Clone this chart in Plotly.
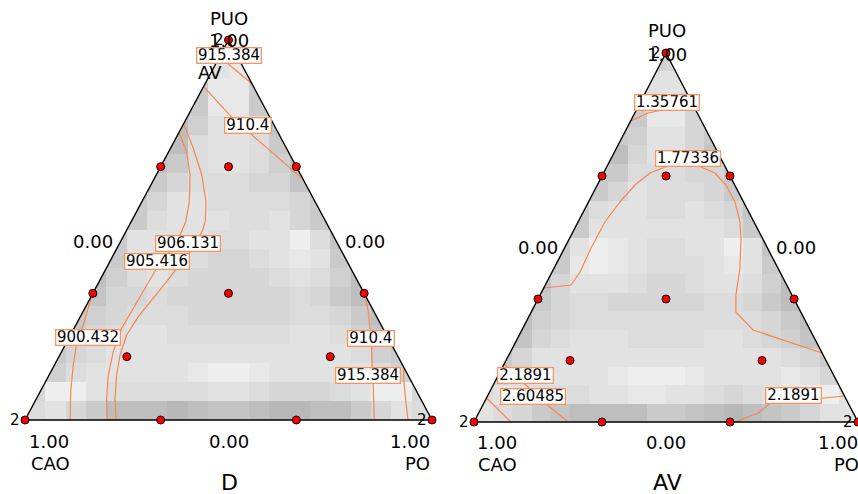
import numpy as np
import plotly.graph_objects as go

FIG_W, FIG_H = 858, 494

# ------------------------------------------------------------------ data
PANEL_TITLES = ["D", "AV"]
AXIS_NAMES = ["PUO", "CAO", "PO"]
TICK_LO, TICK_HI = "0.00", "1.00"

# mixture design points (PUO, CAO, PO)
DESIGN_PUO = [1.0, 0.0, 0.0, 0.6667, 0.3333, 0.6667, 0.3333, 0.0, 0.0, 0.6667, 0.1667, 0.1667, 0.3333]
DESIGN_CAO = [0.0, 1.0, 0.0, 0.3333, 0.6667, 0.0, 0.0, 0.6667, 0.3333, 0.1667, 0.6667, 0.1667, 0.3333]
DESIGN_PO = [0.0, 0.0, 1.0, 0.0, 0.0, 0.3333, 0.6667, 0.3333, 0.6667, 0.1667, 0.1667, 0.6667, 0.3333]

# replicate counts at the three vertices (apex, CAO corner, PO corner)
VERTEX_PUO = [1.0, 0.0, 0.0]
VERTEX_PO = [0.0, 0.0, 1.0]
VERTEX_REPS = ["2", "2", "2"]

# shaded response surface, 20x20 cells, top row first, digit = grey level 0..9
D_GRID = [
    ".........67.........",
    ".........78.........",
    "........3883........",
    "........3883........",
    ".......147762.......",
    ".......167763.......",
    "......23677641......",
    "......35666552......",
    ".....3577666653.....",
    ".....3677766753.....",
    "....377776677962....",
    "....377765567873....",
    "...14676555567641...",
    "...25565555556531...",
    "..3456665555566531..",
    "..3567766666677642..",
    ".356777777777777643.",
    ".467777789987777764.",
    "59976666677655567995",
    "67531110122100113576",
]
AV_GRID = [
    ".........45.........",
    ".........77.........",
    "........4775........",
    "........3885........",
    ".......347753.......",
    ".......157752.......",
    "......33666552......",
    "......35766653......",
    ".....3677667652.....",
    ".....3777777763.....",
    "....379876677972....",
    "....389876667873....",
    "...25777655677641...",
    "...35665555566531...",
    "..1456666666666531..",
    "..2567776666776542..",
    ".357777777777777653.",
    ".567777899987777875.",
    "67766677887765678997",
    "76532111133210123577",
]

# contour lines for D (PUO, PO fractions along each line)
D_915_TOP_PUO = [0.958, 0.937, 0.887]
D_915_TOP_PO = [0.000, 0.031, 0.112]
D_910_TOP_PUO = [0.876, 0.795, 0.755, 0.634]
D_910_TOP_PO = [0.002, 0.112, 0.175, 0.366]
D_905_PUO = [0.757, 0.706, 0.645, 0.5745, 0.5218, 0.5, 0.4737, 0.4263, 0.3992, 0.3466,
             0.294, 0.2413, 0.1797, 0.1184, 0.0571, 0.0]
D_905_PO = [0.0, 0.044, 0.083, 0.1165, 0.134, 0.1365, 0.139, 0.131, 0.124, 0.1215,
            0.119, 0.117, 0.127, 0.1455, 0.172, 0.202]
D_906_PUO = [0.7763, 0.715, 0.6447, 0.5745, 0.5218, 0.5, 0.4816, 0.4474, 0.421, 0.3992,
             0.364, 0.3203, 0.2718, 0.2237, 0.171, 0.1184, 0.0571, 0.0]
D_906_PO = [0.003, 0.056, 0.112, 0.1575, 0.182, 0.1866, 0.1867, 0.1866, 0.180, 0.173,
            0.166, 0.155, 0.1425, 0.138, 0.148, 0.166, 0.1925, 0.224]
D_900_PUO = [0.329, 0.294, 0.25, 0.2018, 0.1447, 0.0745, 0.0]
D_900_PO = [0.0, 0.0085, 0.0182, 0.026, 0.0463, 0.075, 0.111]
D_910_BOT_PUO = [0.329, 0.285, 0.2413, 0.1974, 0.136, 0.1008, 0.0]
D_910_BOT_PO = [0.671, 0.701, 0.727, 0.753, 0.785, 0.805, 0.858]
D_915_BOT_PUO = [0.1368, 0.1105, 0.0526, 0.0]
D_915_BOT_PO = [0.863, 0.875, 0.909, 0.941]

# contour lines for AV
AV_136_PUO = [0.8157, 0.8374, 0.8482, 0.851, 0.8618]
AV_136_PO = [0.0, 0.034, 0.081, 0.1135, 0.138]
AV_177_PUO = [0.3631, 0.3686, 0.3713, 0.4065, 0.4363, 0.4715, 0.5068, 0.542, 0.5962, 0.6423,
              0.6748, 0.6938, 0.6992, 0.6911, 0.6748, 0.6423, 0.5962, 0.542, 0.4932, 0.4173,
              0.3442, 0.2981, 0.2493, 0.2168, 0.187]
AV_177_PO = [0.0, 0.040, 0.067, 0.073, 0.071, 0.069, 0.0695, 0.070, 0.082, 0.098,
             0.121, 0.158, 0.200, 0.2456, 0.290, 0.335, 0.3816, 0.4217, 0.4487, 0.484,
             0.510, 0.533, 0.602, 0.709, 0.813]
AV_219_L_PUO = [0.1572, 0.1355, 0.103, 0.0894, 0.0515, 0.0]
AV_219_L_PO = [0.0, 0.034, 0.081, 0.101, 0.159, 0.245]
AV_260_PUO = [0.065, 0.0]
AV_260_PO = [0.0, 0.096]
AV_219_R_PUO = [0.0, 0.0236, 0.0507, 0.0642, 0.0705]
AV_219_R_PO = [0.679, 0.728, 0.7455, 0.872, 0.9295]

# contour labels: text, PUO, PO
D_LABEL_TEXT = ["915.384", "910.4", "906.131", "905.416", "900.432", "910.4", "915.384"]
D_LABEL_PUO = [0.958, 0.7737, 0.4632, 0.4184, 0.2184, 0.2158, 0.1184]
D_LABEL_PO = [0.022, 0.161, 0.169, 0.115, 0.0456, 0.742, 0.7836]
AV_LABEL_TEXT = ["1.35761", "1.77336", "2.1891", "2.60485", "2.1891"]
AV_LABEL_PUO = [0.8672, 0.7154, 0.1247, 0.0678, 0.0705]
AV_LABEL_PO = [0.069, 0.1996, 0.0705, 0.1197, 0.798]

# ------------------------------------------------------------------ styling / layout
FONT = "DejaVu Sans"
LINE_COL = "#F8874C"
BOX_COL = "#F7955E"
GREY_LO, GREY_HI = 184, 238

PANELS = [
    dict(grid=D_GRID,
         lines=[(D_915_TOP_PUO, D_915_TOP_PO), (D_910_TOP_PUO, D_910_TOP_PO),
                (D_905_PUO, D_905_PO), (D_906_PUO, D_906_PO), (D_900_PUO, D_900_PO),
                (D_910_BOT_PUO, D_910_BOT_PO), (D_915_BOT_PUO, D_915_BOT_PO)],
         labels=(D_LABEL_TEXT, D_LABEL_PUO, D_LABEL_PO),
         x0=25, xunit=407, y0=420, yunit=380, dom=(0, 452), xa="x", ya="y"),
    dict(grid=AV_GRID,
         lines=[(AV_136_PUO, AV_136_PO), (AV_177_PUO, AV_177_PO),
                (AV_219_L_PUO, AV_219_L_PO), (AV_260_PUO, AV_260_PO),
                (AV_219_R_PUO, AV_219_R_PO)],
         labels=(AV_LABEL_TEXT, AV_LABEL_PUO, AV_LABEL_PO),
         x0=474, xunit=384, y0=422, yunit=369, dom=(452, 858), xa="x2", ya="y2"),
]


def proj(puo, po):
    puo = np.asarray(puo, float)
    po = np.asarray(po, float)
    return po + puo / 2.0, puo


fig = go.Figure()
annotations = []

for p in PANELS:
    xa, ya = p["xa"], p["ya"]
    # grey heat map
    z = []
    for row in reversed(p["grid"]):
        z.append([np.nan if ch == "." else float(ch) for ch in row])
    fig.add_trace(go.Heatmap(
        z=z, x0=0.025, dx=0.05, y0=0.025, dy=0.05, zmin=0, zmax=9,
        colorscale=[[0, f"rgb({GREY_LO},{GREY_LO},{GREY_LO})"], [1, f"rgb({GREY_HI},{GREY_HI},{GREY_HI})"]],
        showscale=False, hoverinfo="skip", xaxis=xa, yaxis=ya))
    # white masks outside the simplex
    vx, vy = proj(VERTEX_PUO, VERTEX_PO)  # apex, CAO corner, PO corner
    e = 0.03
    fig.add_trace(go.Scatter(
        x=[vx[1], vx[0], vx[0], vx[1] - e, vx[1] - e, vx[1]],
        y=[vy[1], vy[0], vy[0] + e, vy[0] + e, vy[1] - e, vy[1] - e],
        fill="toself", fillcolor="white", line=dict(width=0), mode="lines",
        hoverinfo="skip", showlegend=False, xaxis=xa, yaxis=ya))
    fig.add_trace(go.Scatter(
        x=[vx[2], vx[0], vx[0], vx[2] + e, vx[2] + e, vx[2]],
        y=[vy[2], vy[0], vy[0] + e, vy[0] + e, vy[2] - e, vy[2] - e],
        fill="toself", fillcolor="white", line=dict(width=0), mode="lines",
        hoverinfo="skip", showlegend=False, xaxis=xa, yaxis=ya))
    # contour lines
    for lp, lo in p["lines"]:
        lx, ly = proj(lp, lo)
        fig.add_trace(go.Scatter(x=lx, y=ly, mode="lines",
                                 line=dict(color=LINE_COL, width=1.2),
                                 hoverinfo="skip", showlegend=False, xaxis=xa, yaxis=ya))
    # triangle outline
    fig.add_trace(go.Scatter(x=[vx[1], vx[2], vx[0], vx[1]], y=[vy[1], vy[2], vy[0], vy[1]],
                             mode="lines", line=dict(color="black", width=1.4),
                             hoverinfo="skip", showlegend=False, xaxis=xa, yaxis=ya))
    # design points
    dx_, dy_ = proj(DESIGN_PUO, DESIGN_PO)
    fig.add_trace(go.Scatter(x=dx_, y=dy_, mode="markers", cliponaxis=False,
                             marker=dict(size=8, color="#FF0000", line=dict(color="black", width=1)),
                             showlegend=False, xaxis=xa, yaxis=ya))
    # replicate labels at vertices
    for i in range(3):
        annotations.append(dict(x=vx[i], y=vy[i], xref=xa, yref=ya, text=VERTEX_REPS[i],
                                showarrow=False, xanchor="right", xshift=-3,
                                font=dict(family=FONT, size=15, color="black")))
    # contour labels
    texts, lpuo, lpo = p["labels"]
    lx, ly = proj(lpuo, lpo)
    for t, x, y in zip(texts, lx, ly):
        annotations.append(dict(x=x, y=y, xref=xa, yref=ya, text=t, showarrow=False,
                                bgcolor="white", bordercolor=BOX_COL, borderwidth=1.3,
                                borderpad=0, width=9.2 * len(t) - 1, height=14,
                                font=dict(family=FONT, size=15, color="black")))
    # axes setup
    d0, d1 = p["dom"]
    xr = [(d0 - p["x0"]) / p["xunit"], (d1 - p["x0"]) / p["xunit"]]
    yr = [(p["y0"] - FIG_H) / p["yunit"], p["y0"] / p["yunit"]]
    axkey = "xaxis" if xa == "x" else "xaxis2"
    aykey = "yaxis" if ya == "y" else "yaxis2"
    fig.update_layout(**{
        axkey: dict(domain=[d0 / FIG_W, d1 / FIG_W], range=xr, visible=False, fixedrange=True),
        aykey: dict(domain=[0, 1], range=yr, visible=False, fixedrange=True),
    })


def txt(px, py, text, size=18, xanchor="center"):
    annotations.append(dict(x=px / FIG_W, y=1 - py / FIG_H, xref="paper", yref="paper",
                            text=text, showarrow=False, xanchor=xanchor, yanchor="middle",
                            font=dict(family=FONT, size=size, color="black")))


# panel D texts
txt(229, 18, AXIS_NAMES[0])
txt(229, 41, TICK_HI)
txt(93, 241, TICK_LO)
txt(365, 241, TICK_LO)
txt(49, 441, TICK_HI)
txt(50, 463, AXIS_NAMES[1])
txt(229, 441, TICK_LO)
txt(410, 441, TICK_HI)
txt(417, 463, AXIS_NAMES[2])
txt(229, 482, PANEL_TITLES[0], size=22)
txt(210, 72, PANEL_TITLES[1])
# panel AV texts
txt(667, 31, AXIS_NAMES[0])
txt(667, 54, TICK_HI)
txt(538, 247, TICK_LO)
txt(796, 247, TICK_LO)
txt(497, 442, TICK_HI)
txt(497, 464, AXIS_NAMES[1])
txt(666, 442, TICK_LO)
txt(838, 442, TICK_HI)
txt(846, 464, AXIS_NAMES[2])
txt(667, 482, PANEL_TITLES[1], size=22)

fig.update_layout(width=FIG_W, height=FIG_H, margin=dict(l=0, r=0, t=0, b=0),
                  paper_bgcolor="white", plot_bgcolor="rgba(0,0,0,0)",
                  showlegend=False, annotations=annotations)
fig.write_html("out.html")
